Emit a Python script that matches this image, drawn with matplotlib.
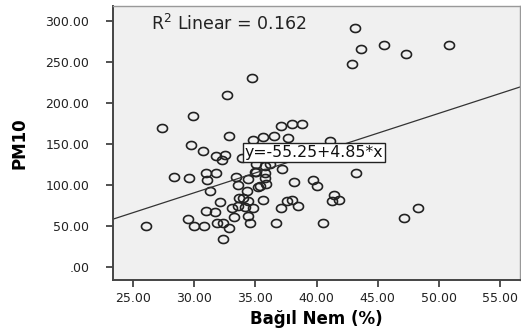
import matplotlib
matplotlib.use('Agg')
import matplotlib.pyplot as plt
from matplotlib.path import Path
import numpy as np

# humidity (%) and PM10 values
nem = [43.1, 43.6, 45.5, 47.3, 50.8, 42.9, 34.7, 32.7, 27.4, 29.9,
       32.9, 29.8, 34.8, 35.6, 36.5, 37.1, 38.0, 38.8, 37.7, 41.1,
       30.7, 31.8, 32.5, 32.3, 33.9, 28.4, 29.6, 31.0, 31.8, 31.1,
       33.4, 33.6, 34.4, 31.3, 32.1, 31.0, 31.7, 33.1, 33.3, 29.5,
       30.0, 30.8, 31.9, 32.4, 32.9, 32.4, 26.1, 33.7, 34.0, 34.3,
       33.6, 34.4, 34.8, 34.4, 34.6, 35.2, 35.1, 35.8, 35.8, 35.9,
       35.6, 36.7, 37.1, 37.2, 37.6, 38.0, 38.5, 38.2, 39.7, 40.0,
       40.5, 41.4, 41.3, 41.8, 43.2, 47.1, 48.3, 35.0, 35.8, 35.1,
       36.2, 34.2, 35.4]
pm10 = [291, 266, 270, 259, 271, 247, 230, 210, 169, 184,
        159, 149, 155, 158, 160, 172, 174, 174, 157, 154,
        141, 135, 136, 130, 133, 110, 108, 114, 114, 106,
        110, 100, 107, 93, 79, 68, 67, 72, 61, 58,
        50, 50, 53, 53, 48, 34, 50, 84, 84, 93,
        74, 80, 72, 62, 54, 98, 116, 114, 108, 101,
        82, 53, 72, 119, 80, 81, 74, 103, 106, 99,
        54, 88, 80, 82, 115, 60, 72, 116, 123, 126,
        125, 73, 99]

intercept = -55.25
slope = 4.85
r2 = 0.162

xticks = [25, 30, 35, 40, 45, 50, 55]
yticks = [0, 50, 100, 150, 200, 250, 300]

def fmt(v):
    s = '%.2f' % v
    return s[1:] if s.startswith('0') else s

# slightly wide ellipse marker (the original image is stretched)
t = np.linspace(0, 2 * np.pi, 60)
ell = Path(np.column_stack([1.25 * np.cos(t), np.sin(t)]))

fig = plt.figure(figsize=(5.21, 3.33), dpi=100)
ax = fig.add_axes([0.217, 0.159, 0.781, 0.823])
ax.set_facecolor('#f0f0f0')

ax.plot(nem, pm10, linestyle='none', marker=ell, markersize=7.2,
        markerfacecolor='none', markeredgecolor='#222222', markeredgewidth=1.2)

xlim = (23.4, 56.6)
xs = np.array(xlim)
ax.plot(xs, intercept + slope * xs, color='#333333', linewidth=0.9)

ax.set_xlim(*xlim)
ax.set_ylim(-16, 318)
ax.set_xticks(xticks)
ax.set_xticklabels([fmt(v) for v in xticks])
ax.set_yticks(yticks)
ax.set_yticklabels([fmt(v) for v in yticks])
ax.tick_params(labelsize=9, length=5, width=1.2, color='#333333',
               labelcolor='#222222', direction='out')
ax.tick_params(axis='y', pad=12)

for s in ['left', 'bottom']:
    ax.spines[s].set_color('#444444')
    ax.spines[s].set_linewidth(1.4)
for s in ['top', 'right']:
    ax.spines[s].set_color('#999999')
    ax.spines[s].set_linewidth(1.0)

ax.set_xlabel('Bağıl Nem (%)', fontsize=12, fontweight='bold', labelpad=4)
ax.set_ylabel('PM10', fontsize=12, fontweight='bold', labelpad=12)

ax.text(26.5, 296, r'R$^2$ Linear = %.3f' % r2, fontsize=12.5,
        color='#222222', va='center', ha='left')
ax.text(34.15, 139, 'y=%.2f+%.2f*x' % (intercept, slope), fontsize=11.3,
        va='center', ha='left', color='#111111',
        bbox=dict(boxstyle='square,pad=0.12', facecolor='white',
                  edgecolor='#222222', linewidth=1.0))

fig.savefig('out.png', dpi=100)
